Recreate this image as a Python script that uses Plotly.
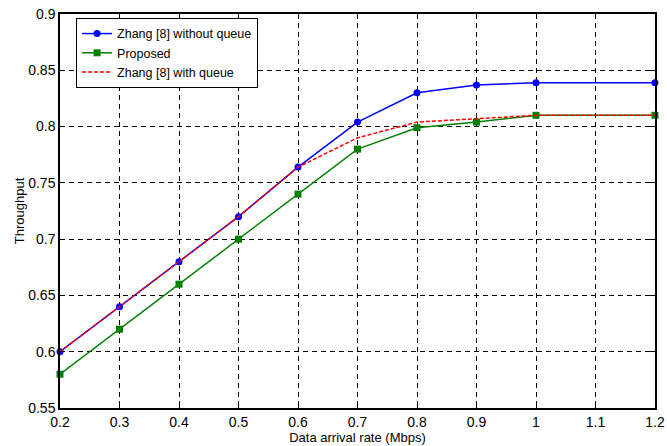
import plotly.graph_objects as go

x_rate = [0.2, 0.3, 0.4, 0.5, 0.6, 0.7, 0.8, 0.9, 1.0, 1.2]
zhang_no_queue = [0.600, 0.640, 0.680, 0.720, 0.764, 0.804, 0.830, 0.837, 0.839, 0.839]
proposed = [0.580, 0.620, 0.660, 0.700, 0.740, 0.780, 0.799, 0.804, 0.810, 0.810]
zhang_queue = [0.600, 0.640, 0.680, 0.720, 0.764, 0.790, 0.804, 0.807, 0.810, 0.810]

x_ticks = [0.2, 0.3, 0.4, 0.5, 0.6, 0.7, 0.8, 0.9, 1.0, 1.1, 1.2]
x_ticklabels = ["0.2", "0.3", "0.4", "0.5", "0.6", "0.7", "0.8", "0.9", "1", "1.1", "1.2"]
y_ticks = [0.55, 0.6, 0.65, 0.7, 0.75, 0.8, 0.85, 0.9]
y_ticklabels = ["0.55", "0.6", "0.65", "0.7", "0.75", "0.8", "0.85", "0.9"]

FONT = "Liberation Sans, Arial"

fig = go.Figure()
fig.add_trace(go.Scatter(x=x_rate, y=zhang_no_queue, mode="lines+markers",
                         name="Zhang [8] without queue",
                         line=dict(color="#0000ff", width=1.5),
                         marker=dict(symbol="circle", size=7, color="#0000ff"),
                         cliponaxis=False))
fig.add_trace(go.Scatter(x=x_rate, y=proposed, mode="lines+markers",
                         name="Proposed",
                         line=dict(color="#008000", width=1.5),
                         marker=dict(symbol="square", size=7, color="#008000"),
                         cliponaxis=False))
fig.add_trace(go.Scatter(x=x_rate, y=zhang_queue, mode="lines",
                         name="Zhang [8] with queue",
                         line=dict(color="#ff0000", width=1.5, dash="4px,2px"),
                         cliponaxis=False))

axis_common = dict(showline=True, linecolor="black", linewidth=1.5, mirror="ticks",
                   ticks="inside", ticklen=5, tickcolor="black",
                   showgrid=True, gridcolor="black", gridwidth=1, griddash="5px,4px",
                   zeroline=False, automargin=False,
                   tickfont=dict(family=FONT, size=14, color="black"))

fig.update_xaxes(range=[0.2, 1.2], tickvals=x_ticks, ticktext=x_ticklabels,
                 title=dict(text="Data arrival rate (Mbps)", standoff=0,
                            font=dict(family=FONT, size=13, color="black")),
                 **axis_common)
fig.update_yaxes(range=[0.55, 0.9], tickvals=y_ticks, ticktext=y_ticklabels,
                 title=dict(text="Throughput", standoff=1,
                            font=dict(family=FONT, size=13, color="black")),
                 **axis_common)

fig.update_layout(
    width=667, height=446,
    margin=dict(l=60, r=12, t=14, b=38),
    plot_bgcolor="white", paper_bgcolor="white",
    font=dict(family=FONT, size=13, color="black"),
    legend=dict(x=0.027, y=0.99, xanchor="left", yanchor="top",
                bgcolor="white", bordercolor="black", borderwidth=1,
                font=dict(family=FONT, size=12.5, color="black"),
                tracegroupgap=0, itemwidth=30),
    showlegend=True,
)

fig.write_html("out.html", config={"displayModeBar": False},
               post_script="document.body.style.margin='0';document.body.style.overflow='hidden';")
